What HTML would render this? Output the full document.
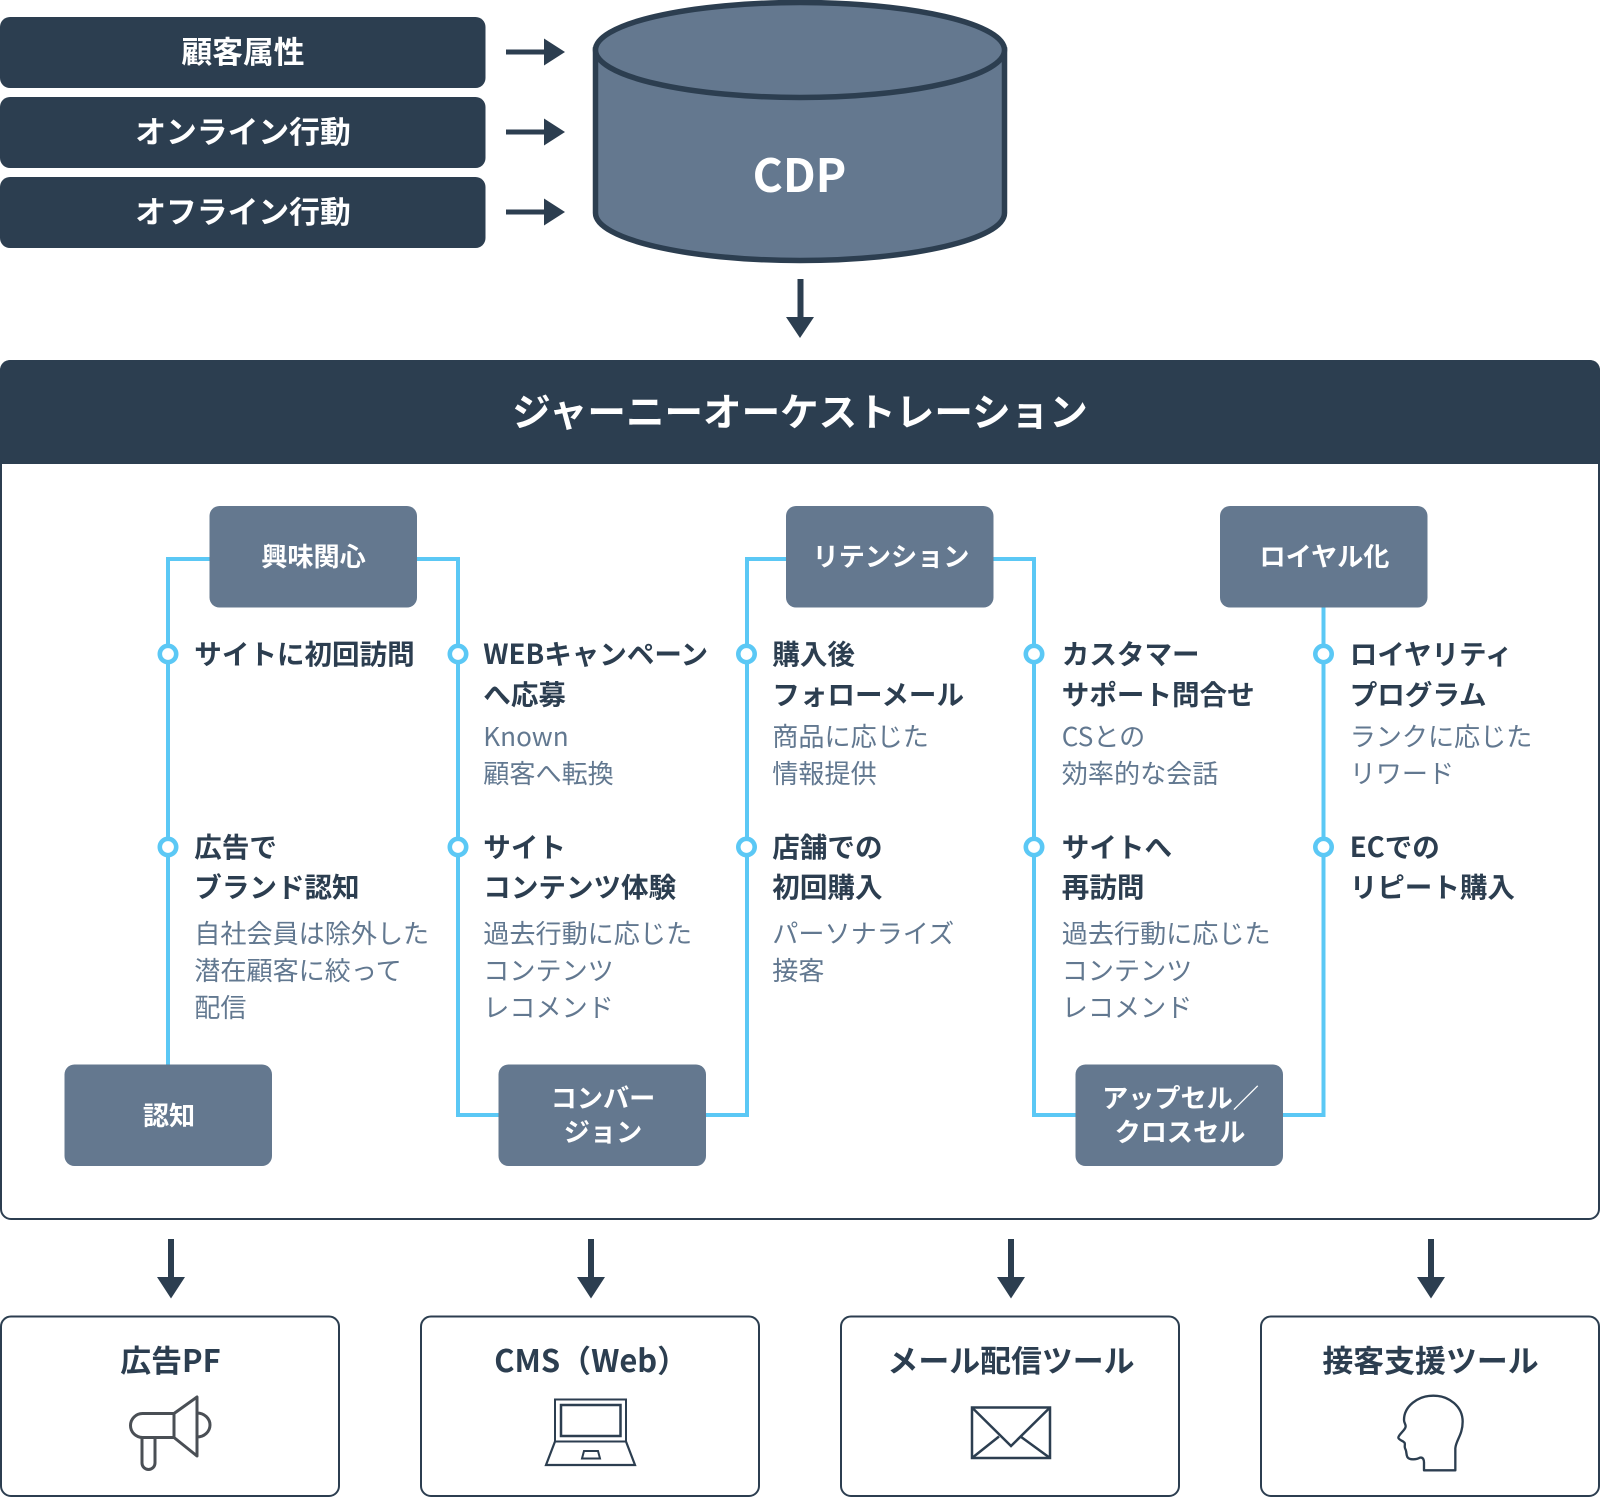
<!DOCTYPE html>
<html lang="ja">
<head>
<meta charset="utf-8">
<title>CDP ジャーニーオーケストレーション</title>
<style>
html,body{margin:0;padding:0;background:#fff;}
svg{display:block;}
text{font-family:"Noto Sans CJK JP","Liberation Sans",sans-serif;}
.w{fill:#fff;font-weight:700;}
.src{font-size:30.8px;text-anchor:middle;}
.node{font-size:26.15px;text-anchor:middle;}
.t{fill:#2c3e50;font-weight:700;font-size:27.55px;}
.s{fill:#627890;font-weight:400;font-size:26.1px;}
.b{fill:#2c3e50;font-weight:700;font-size:30.9px;}
.dot{fill:#fff;stroke:#5bc8f5;stroke-width:4.6;}
</style>
</head>
<body>
<svg width="1600" height="1498" viewBox="0 0 1600 1498" xmlns="http://www.w3.org/2000/svg">
<rect width="1600" height="1498" fill="#fff"/>

<!-- sources -->
<rect x="0" y="17" width="485.500" height="71" rx="10" fill="#2c3e50"/>
<rect x="0" y="97" width="485.500" height="71" rx="10" fill="#2c3e50"/>
<rect x="0" y="177" width="485.500" height="71" rx="10" fill="#2c3e50"/>
<text class="w src" x="243" y="63">顧客属性</text>
<text class="w src" x="243" y="143">オンライン行動</text>
<text class="w src" x="243" y="223">オフライン行動</text>

<g fill="#2c3e50">
<path d="M506 49.500h38v-11l21 13.500-21 13.500v-11h-38z"/>
<path d="M506 129.500h38v-11l21 13.500-21 13.500v-11h-38z"/>
<path d="M506 209.500h38v-11l21 13.500-21 13.500v-11h-38z"/>
</g>

<!-- cylinder -->
<path d="M595.500 50V213C595.500 239 687 260.500 800 260.500S1004.500 239 1004.500 213V50Z" fill="#64788f" stroke="#2c3e50" stroke-width="5.500"/>
<ellipse cx="800" cy="50" rx="204.500" ry="47.500" fill="#64788f" stroke="#2c3e50" stroke-width="5.500"/>
<text class="w" x="799.500" y="192" font-size="46" text-anchor="middle">CDP</text>

<path d="M797.500 279h6v38H814l-14 21-14-21h11.500z" fill="#2c3e50"/>

<!-- main panel -->
<rect x="1" y="361" width="1598" height="858" rx="10" fill="#fff" stroke="#2c3e50" stroke-width="2"/>
<path d="M0 464V370a10 10 0 0 1 10-10H1590a10 10 0 0 1 10 10V464Z" fill="#2c3e50"/>
<text class="w" x="800" y="426" font-size="38.55" text-anchor="middle">ジャーニーオーケストレーション</text>

<!-- connectors -->
<g fill="none" stroke="#5bc8f5" stroke-width="4">
<path d="M210 559H168V1066"/>
<path d="M416 559H458V1115H500"/>
<path d="M705 1115H747V559H788"/>
<path d="M993 559H1034V1115H1076"/>
<path d="M1282 1115H1323.500V606"/>
</g>

<!-- stage nodes -->
<g fill="#64788f">
<rect x="209.500" y="506" width="207.500" height="101.500" rx="10"/>
<rect x="64.500" y="1064.500" width="207.500" height="101.500" rx="10"/>
<rect x="498.500" y="1064.500" width="207.500" height="101.500" rx="10"/>
<rect x="786" y="506" width="207.500" height="101.500" rx="10"/>
<rect x="1075.500" y="1064.500" width="207.500" height="101.500" rx="10"/>
<rect x="1220" y="506" width="207.500" height="101.500" rx="10"/>
</g>
<text class="w node" x="313.500" y="566">興味関心</text>
<text class="w node" x="169" y="1125">認知</text>
<text class="w node" x="603" y="1107.500">コンバー</text>
<text class="w node" x="603" y="1141.500">ジョン</text>
<text class="w node" x="891" y="566">リテンション</text>
<text class="w node" x="1180.500" y="1107.500">アップセル／</text>
<text class="w node" x="1180" y="1141.500">クロスセル</text>
<text class="w node" x="1324.500" y="566">ロイヤル化</text>

<!-- dots -->
<g class="dots">
<circle class="dot" cx="168" cy="654" r="8.200"/><circle class="dot" cx="168" cy="847" r="8.200"/>
<circle class="dot" cx="458" cy="654" r="8.200"/><circle class="dot" cx="458" cy="847" r="8.200"/>
<circle class="dot" cx="746.500" cy="654" r="8.200"/><circle class="dot" cx="746.500" cy="847" r="8.200"/>
<circle class="dot" cx="1034" cy="654" r="8.200"/><circle class="dot" cx="1034" cy="847" r="8.200"/>
<circle class="dot" cx="1323.500" cy="654" r="8.200"/><circle class="dot" cx="1323.500" cy="847" r="8.200"/>
</g>

<!-- column 1 -->
<text class="t" x="194.300" y="664">サイトに初回訪問</text>
<text class="t" x="194.300" y="857">広告で</text>
<text class="t" x="194.300" y="897">ブランド認知</text>
<text class="s" x="194.300" y="943">自社会員は除外した</text>
<text class="s" x="194.300" y="980">潜在顧客に絞って</text>
<text class="s" x="194.300" y="1017">配信</text>

<!-- column 2 -->
<text class="t" x="483.300" y="664">WEBキャンペーン</text>
<text class="t" x="483.300" y="704.500">へ応募</text>
<text class="s" x="483.300" y="746">Known</text>
<text class="s" x="483.300" y="783">顧客へ転換</text>
<text class="t" x="483.300" y="857">サイト</text>
<text class="t" x="483.300" y="897">コンテンツ体験</text>
<text class="s" x="483.300" y="943">過去行動に応じた</text>
<text class="s" x="483.300" y="980">コンテンツ</text>
<text class="s" x="483.300" y="1017">レコメンド</text>

<!-- column 3 -->
<text class="t" x="772.300" y="664">購入後</text>
<text class="t" x="772.300" y="704.500">フォローメール</text>
<text class="s" x="772.300" y="746">商品に応じた</text>
<text class="s" x="772.300" y="783">情報提供</text>
<text class="t" x="772.300" y="857">店舗での</text>
<text class="t" x="772.300" y="897">初回購入</text>
<text class="s" x="772.300" y="943">パーソナライズ</text>
<text class="s" x="772.300" y="980">接客</text>

<!-- column 4 -->
<text class="t" x="1061.800" y="664">カスタマー</text>
<text class="t" x="1061.800" y="704.500">サポート問合せ</text>
<text class="s" x="1061.800" y="746">CSとの</text>
<text class="s" x="1061.800" y="783">効率的な会話</text>
<text class="t" x="1061.800" y="857">サイトへ</text>
<text class="t" x="1061.800" y="897">再訪問</text>
<text class="s" x="1061.800" y="943">過去行動に応じた</text>
<text class="s" x="1061.800" y="980">コンテンツ</text>
<text class="s" x="1061.800" y="1017">レコメンド</text>

<!-- column 5 -->
<text class="t" x="1349.700" y="664">ロイヤリティ</text>
<text class="t" x="1349.700" y="704.500">プログラム</text>
<text class="s" x="1349.700" y="746">ランクに応じた</text>
<text class="s" x="1349.700" y="783">リワード</text>
<text class="t" x="1349.700" y="857">ECでの</text>
<text class="t" x="1349.700" y="897">リピート購入</text>

<!-- down arrows -->
<g fill="#2c3e50">
<path d="M168 1239h6v38h11l-14 21.500-14-21.500h11z"/>
<path d="M588 1239h6v38h11l-14 21.500-14-21.500h11z"/>
<path d="M1008 1239h6v38h11l-14 21.500-14-21.500h11z"/>
<path d="M1428 1239h6v38h11l-14 21.500-14-21.500h11z"/>
</g>

<!-- tools -->
<g fill="#fff" stroke="#2c3e50" stroke-width="2">
<rect x="1" y="1316.500" width="338" height="179.500" rx="10"/>
<rect x="421" y="1316.500" width="338" height="179.500" rx="10"/>
<rect x="841" y="1316.500" width="338" height="179.500" rx="10"/>
<rect x="1261" y="1316.500" width="338" height="179.500" rx="10"/>
</g>
<text class="b" x="170.500" y="1372" text-anchor="middle">広告PF</text>
<text class="b" x="494.300" y="1372">CMS（Web）</text>
<text class="b" x="1011" y="1372" text-anchor="middle">メール配信ツール</text>
<text class="b" x="1430.500" y="1372" text-anchor="middle">接客支援ツール</text>

<!-- megaphone -->
<g fill="none" stroke="#4a4f55" stroke-width="3" stroke-linejoin="round" stroke-linecap="round">
<path d="M174 1413.500H142.500a12 12 0 0 0 0 24H174Z"/>
<path d="M174 1413.500L197 1397V1456L174 1437.500"/>
<path d="M197 1413a13 12 0 0 1 0 24"/>
<path d="M142 1437.500V1463a6.500 6.500 0 0 0 13 0V1437.500"/>
</g>

<!-- laptop -->
<g fill="none" stroke="#2c3e50" stroke-linejoin="miter">
<rect x="555" y="1399.500" width="71" height="42" stroke-width="2"/>
<rect x="561" y="1405" width="59.500" height="31" stroke-width="2.500"/>
<path d="M555 1441.500L546 1465H635L626 1441.500" stroke-width="2.200"/>
<path d="M584 1451H598L600 1458.500H582Z" stroke-width="2"/>
</g>

<!-- envelope -->
<g fill="none" stroke="#2c3e50" stroke-width="2.500">
<rect x="972" y="1407.500" width="78" height="50.500"/>
<path d="M972 1407.500L1011 1446L1050 1407.500"/>
<path d="M972 1458L999 1436.500M1050 1458L1020.500 1436.500"/>
</g>

<!-- head -->
<g transform="translate(1380 1385) scale(.3333)">
<path d="M132 256H226V190C228 165 248 150 248 110C248 65 208 32 160 32C112 32 72 65 72 105C72 115 80 120 76 128C72 138 55 150 55 158C55 165 72 168 74 174C76 180 72 185 76 192C80 198 78 208 82 216C88 226 110 224 120 218C130 216 132 226 132 232Z" fill="none" stroke="#2c3e50" stroke-width="7" stroke-linejoin="round"/>
</g>
</svg>
</body>
</html>
